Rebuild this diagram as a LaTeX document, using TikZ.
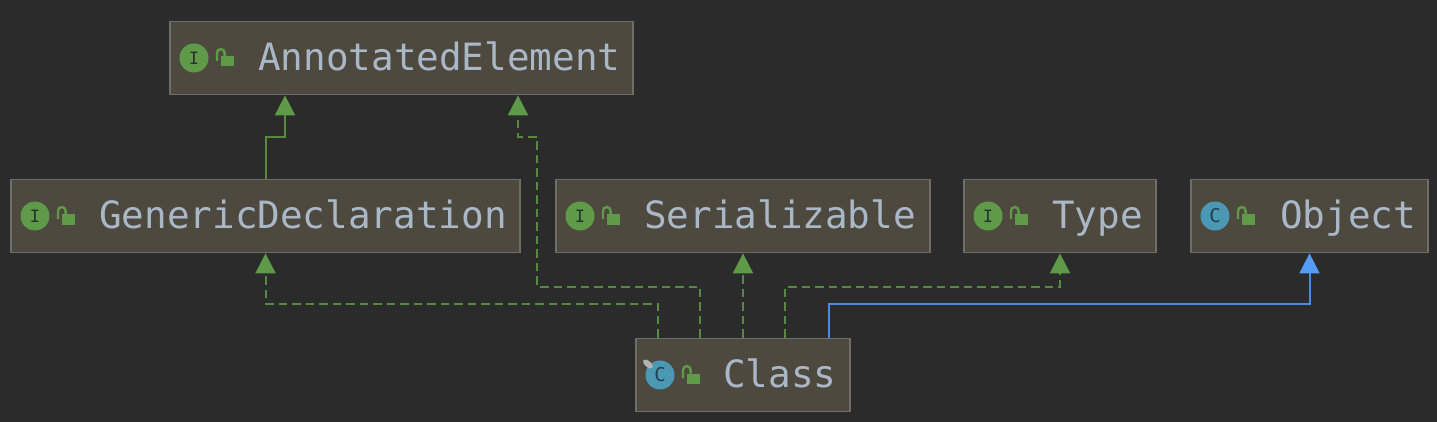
\documentclass[tikz,border=0pt]{standalone}
\usepackage{fontspec}
\setmonofont{DejaVu Sans Mono}
\usetikzlibrary{arrows.meta}
\definecolor{bgc}{HTML}{2B2B2B}
\definecolor{boxfill}{HTML}{4E493F}
\definecolor{boxedge}{HTML}{6E6E68}
\definecolor{labelc}{HTML}{A9B7C6}
\definecolor{greenc}{HTML}{5F9A48}
\definecolor{linkgreen}{HTML}{568A42}
\definecolor{bluec}{HTML}{559CF5}
\definecolor{linkblue}{HTML}{4A8AE0}
\definecolor{tealc}{HTML}{4B98B4}
\definecolor{ink}{HTML}{24342A}
\definecolor{inkc}{HTML}{1F3F4F}
\tikzset{
  umlbox/.style={draw=boxedge,fill=boxfill,line width=1.8pt,inner sep=0pt,minimum height=73pt},
  umllabel/.style={anchor=base west,inner sep=0pt,text=labelc,font=\ttfamily\fontsize{37.6pt}{40pt}\selectfont},
  ifaceicon/.style={circle,fill=greenc,minimum size=29pt,inner sep=0pt,text=ink,font=\ttfamily\fontsize{17pt}{18pt}\selectfont},
  classicon/.style={circle,fill=tealc,minimum size=29pt,inner sep=0pt,text=inkc,font=\ttfamily\fontsize{19pt}{19pt}\selectfont},
  lockpic/.pic={
    \fill[greenc] (-5.5,-1.5) rectangle (7.5,8.5);
    \draw[greenc,line width=2.4pt] (-9,3) -- (-9,-5) arc[start angle=180,end angle=0,x radius=3.8pt,y radius=4pt] -- (-1.4,-1.5);
  },
  inherit/.style={line width=2pt},
  impl/.style={line width=2pt,dash pattern=on 8.5pt off 5pt},
  linkg/.style={draw=linkgreen,-{Triangle[length=20pt,width=20pt,color=greenc]}},
  linkb/.style={draw=linkblue,-{Triangle[length=20pt,width=20pt,color=bluec]}},
}
% name, x1, x2, y1, icon style, icon letter, text x, text
\newcommand{\umlitem}[8]{
  \node[umlbox,minimum width={#3-#2}] (#1) at ({(#2+#3)/2},{#4+37}) {};
  \node[#5] (#1-icon) at ({#2+24},{#4+37}) {#6};
  \pic at ({#2+56},{#4+37}) {lockpic};
  \node[umllabel] (#1-text) at (#7,{#4+49.5}) {#8};
}
\begin{document}
\begin{tikzpicture}[x=1pt,y=-1pt]
\useasboundingbox (0,0) rectangle (1437,422);
\fill[bgc] (0,0) rectangle (1437,422);

\umlitem{ae}{170}{633}{21}{ifaceicon}{I}{258}{AnnotatedElement}
\umlitem{gd}{11}{520}{179}{ifaceicon}{I}{99}{GenericDeclaration}
\umlitem{ser}{556}{930}{179}{ifaceicon}{I}{644}{Serializable}
\umlitem{typ}{964}{1156}{179}{ifaceicon}{I}{1052}{Type}
\umlitem{obj}{1191}{1428}{179}{classicon}{C}{1280}{Object}
\umlitem{cls}{636}{850}{338}{classicon}{C}{723}{Class}
\fill[gray!60!white,rotate around={-40:(648,364)}] (648,364) ellipse[x radius=6pt,y radius=3pt];

\draw[inherit,linkg] (gd.north) -- ++(0,-42) -| ([xshift=-116.5pt]ae.south);
\draw[impl,linkg] ([xshift=-85pt]cls.north) -- ++(0,-34) -| (gd.south);
\draw[impl,linkg] ([xshift=-43pt]cls.north) -- ++(0,-51) -- ++(-163,0) -- ++(0,-150) -| ([xshift=116.5pt]ae.south);
\draw[impl,linkg] (cls.north) -- (ser.south);
\draw[impl,linkg] ([xshift=42pt]cls.north) -- ++(0,-51) -| (typ.south);
\draw[inherit,linkb] ([xshift=86pt]cls.north) -- ++(0,-34) -| (obj.south);
\end{tikzpicture}
\end{document}
